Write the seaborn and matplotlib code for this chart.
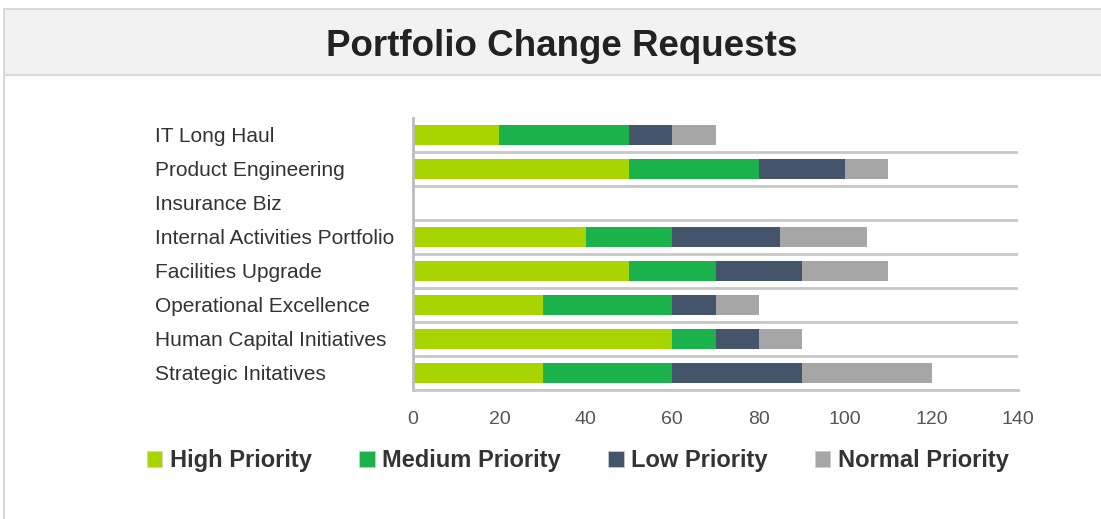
import numpy as np
import pandas as pd
import seaborn as sns
import matplotlib.pyplot as plt
from matplotlib.patches import Patch, Rectangle
from matplotlib.lines import Line2D

# chart data
portfolios = ["IT Long Haul", "Product Engineering", "Insurance Biz",
              "Internal Activities Portfolio", "Facilities Upgrade",
              "Operational Excellence", "Human Capital Initiatives",
              "Strategic Initatives"]
high_priority = [20, 50, 0, 40, 50, 30, 60, 30]
medium_priority = [30, 30, 0, 20, 20, 30, 10, 30]
low_priority = [10, 20, 0, 25, 20, 10, 10, 30]
normal_priority = [10, 10, 0, 20, 20, 10, 10, 30]
series_names = ["High Priority", "Medium Priority", "Low Priority", "Normal Priority"]
series_colors = ["#a8d400", "#1bb24b", "#44546a", "#a6a6a6"]
x_ticks = [0, 20, 40, 60, 80, 100, 120, 140]

sns.set_theme(style="white")
plt.rcParams["font.family"] = ["Liberation Sans", "DejaVu Sans"]

df = pd.DataFrame({"portfolio": portfolios, "High Priority": high_priority,
                   "Medium Priority": medium_priority, "Low Priority": low_priority,
                   "Normal Priority": normal_priority})
# cumulative values for stacking
cum = df[series_names].cumsum(axis=1)
cum["portfolio"] = df["portfolio"]

fig = plt.figure(figsize=(11.01, 5.19), dpi=100)

# header band and frame
fig.patches.append(Rectangle((4 / 1101, 1 - 75 / 519), 1, 66 / 519, transform=fig.transFigure,
                             facecolor="#f2f2f2", edgecolor="#d9d9d9", linewidth=1.5, zorder=0))
fig.lines.append(Line2D([4 / 1101, 4 / 1101], [0, 1 - 75 / 519], transform=fig.transFigure,
                        color="#d9d9d9", linewidth=1.5))
fig.text(0.51, 1 - 46 / 519, "Portfolio Change Requests", ha="center", va="center",
         fontsize=26.5, fontweight="bold", color="#222222")

ax = fig.add_axes([413 / 1101, 1 - 390 / 519, 605 / 1101, 272 / 519])

# draw from the top of the stack down so each segment shows
for name, color in reversed(list(zip(series_names, series_colors))):
    sns.barplot(data=cum, x=name, y="portfolio", color=color, width=0.58,
                orient="h", ax=ax, saturation=1, linewidth=0)

ax.set_xlim(0, 140)
ax.set_ylim(len(portfolios) - 0.5, -0.5)
ax.set_xticks(x_ticks)
ax.set_xlabel("")
ax.set_ylabel("")
ax.set_yticks(np.arange(len(portfolios)) + 0.5, minor=True)
ax.grid(which="minor", axis="y", color="#c8c8c8", linewidth=2)
ax.set_axisbelow(True)
ax.tick_params(axis="y", which="both", length=0, pad=186, labelsize=15, labelcolor="#333333")
ax.tick_params(axis="x", length=0, pad=15, labelsize=14, labelcolor="#555555")
for lbl in ax.get_yticklabels():
    lbl.set_horizontalalignment("left")

for side in ["top", "right"]:
    ax.spines[side].set_visible(False)
ax.spines["left"].set_color("#bdbdbd")
ax.spines["left"].set_linewidth(2)
ax.spines["bottom"].set_color("#c8c8c8")
ax.spines["bottom"].set_linewidth(2)

handles = [Patch(facecolor=c, edgecolor="#cfcfcf", linewidth=0.5) for c in series_colors]
fig.legend(handles, series_names, loc="center left", bbox_to_anchor=(147 / 1101, 1 - 461 / 519),
           ncol=4, frameon=False, handlelength=0.65, handleheight=0.65, handletextpad=0.33,
           columnspacing=2.0, borderaxespad=0, borderpad=0,
           prop={"size": 17, "weight": "bold"}, labelcolor="#333333")

fig.savefig("out.png", dpi=100)
